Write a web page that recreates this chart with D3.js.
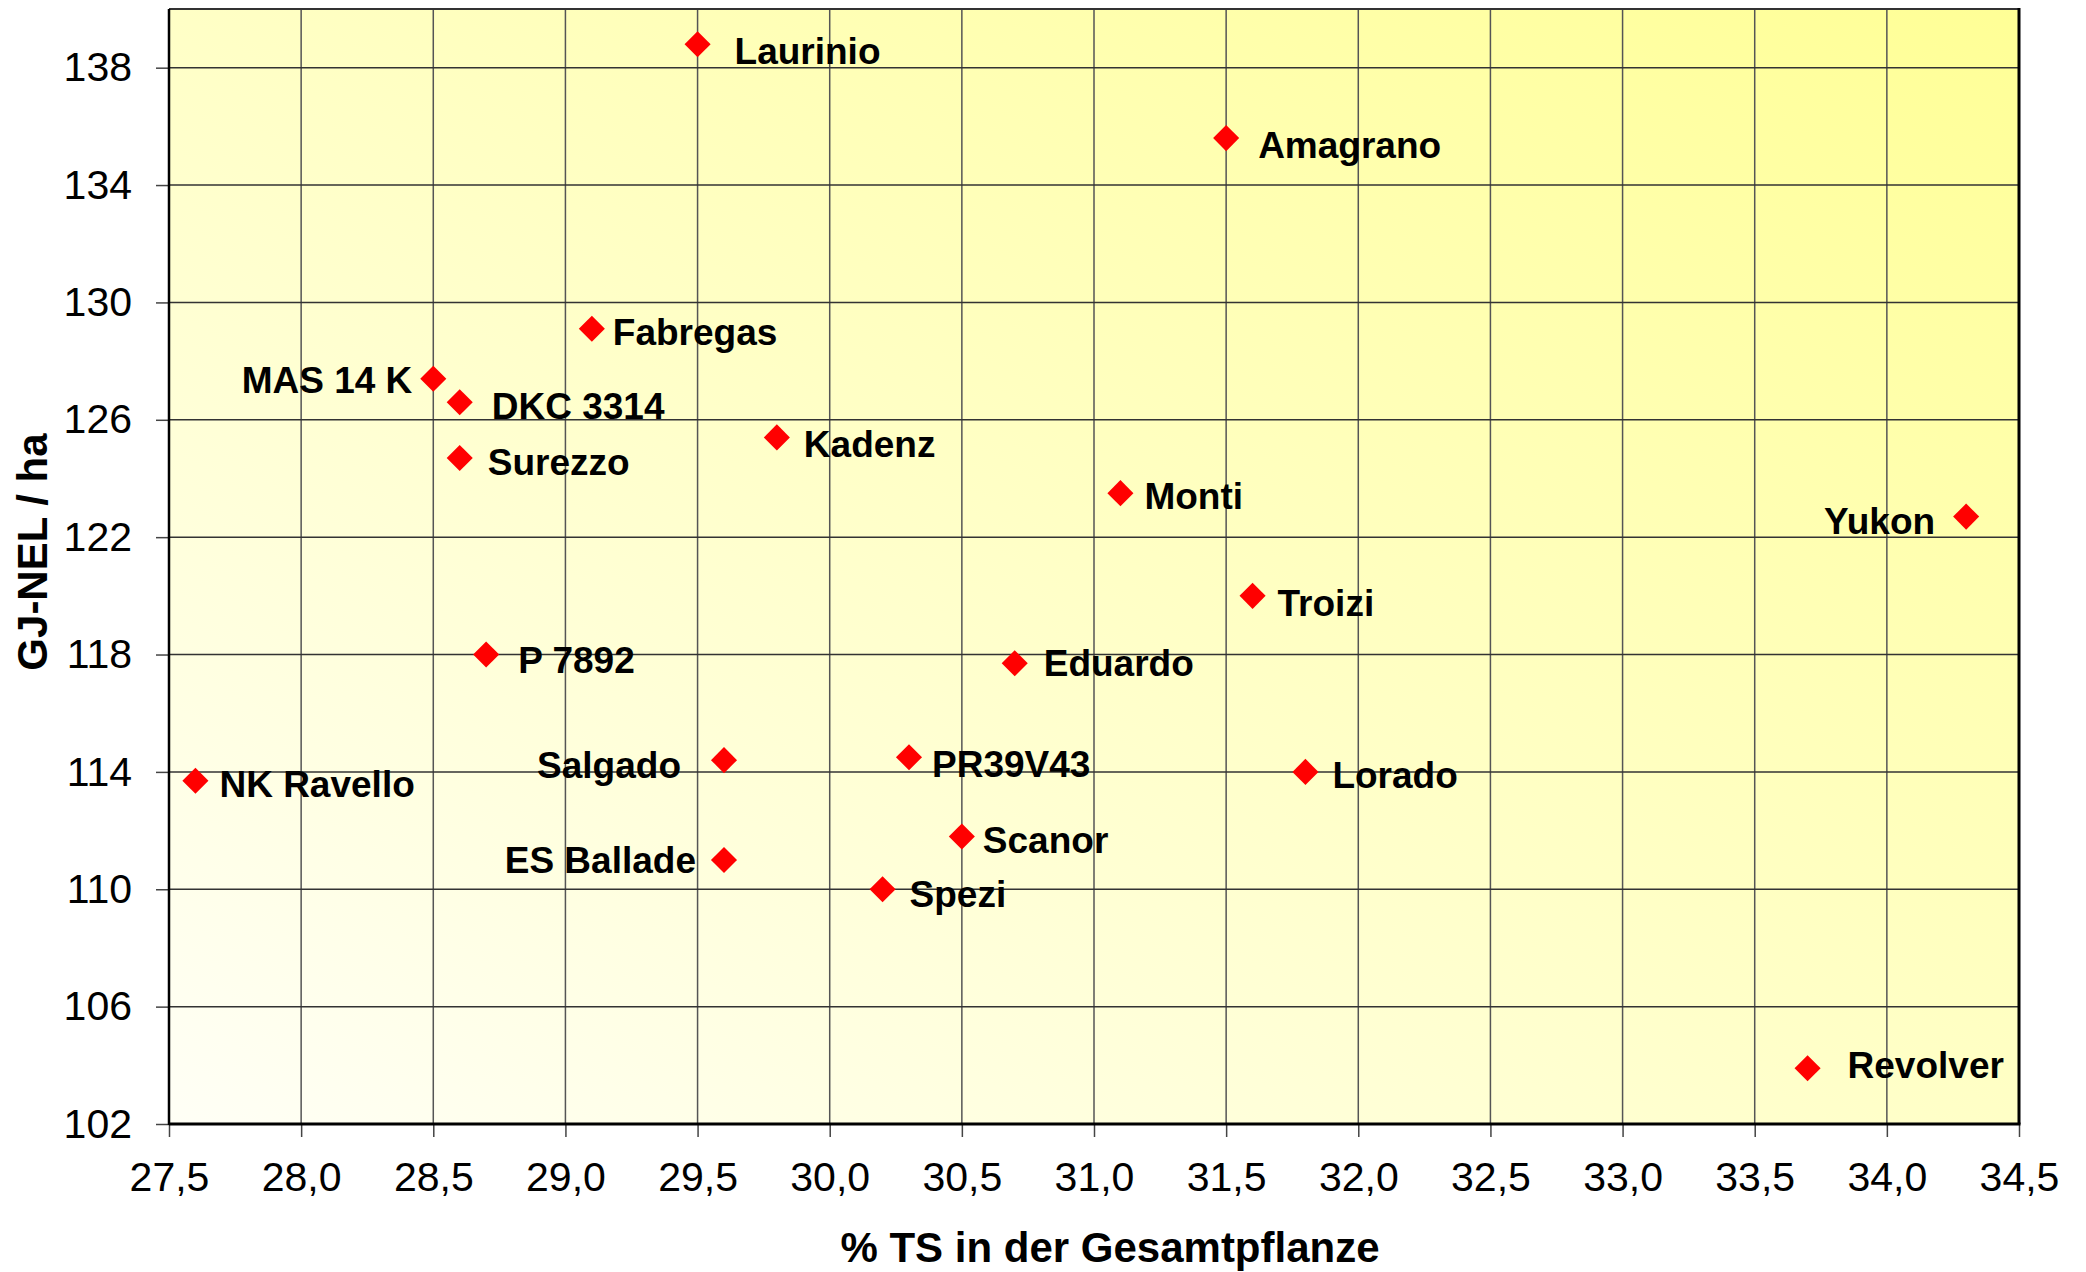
<!DOCTYPE html>
<html>
<head>
<meta charset="utf-8">
<script src="https://cdn.jsdelivr.net/npm/d3@7"></script>
<style>
  html, body { margin: 0; padding: 0; background: #fff; }
  svg { display: block; }
</style>
</head>
<body>
<svg id="chart" width="2086" height="1272"></svg>
<script>
// ---- Data ----
const varieties = ["Laurinio","Amagrano","Fabregas","MAS 14 K","DKC 3314","Surezzo","Kadenz","Monti","Yukon","Troizi","P 7892","Eduardo","NK Ravello","Salgado","PR39V43","Lorado","Scanor","ES Ballade","Spezi","Revolver"];
const tsValues  = [29.5, 31.5, 29.1, 28.5, 28.6, 28.6, 29.8, 31.1, 34.3, 31.6, 28.7, 30.7, 27.6, 29.6, 30.3, 31.8, 30.5, 29.6, 30.2, 33.7];
const nelValues = [138.8, 135.6, 129.1, 127.4, 126.6, 124.7, 125.4, 123.5, 122.7, 120.0, 118.0, 117.7, 113.7, 114.4, 114.5, 114.0, 111.8, 111.0, 110.0, 103.9];
const xTicks = [27.5, 28.0, 28.5, 29.0, 29.5, 30.0, 30.5, 31.0, 31.5, 32.0, 32.5, 33.0, 33.5, 34.0, 34.5];
const yTicks = [102, 106, 110, 114, 118, 122, 126, 130, 134, 138];
const xTitle = "% TS in der Gesamtpflanze";
const yTitle = "GJ-NEL / ha";

// ---- Label layout (side, horizontal gap, vertical shift) ----
const labelLayout = [
  ["r",37,7],["r",32,7],["r",21,3],["l",21,1],["r",32,4],["r",28,4],["r",27,7],["r",24,3],
  ["l",31,4],["r",25,7],["r",32,5],["r",29,0],["r",24,3],["l",43,5],["r",23,7],["r",27,3],
  ["r",21,4],["l",28,0],["r",27,5],["r",40,-3]
];

// ---- Layout ----
const pLeft = 169, pRight = 2019, pTop = 9, pBottom = 1124;
const font = "'Liberation Sans', Arial, Helvetica, sans-serif";

const svg = d3.select("#chart");

const x = d3.scaleLinear().domain([27.5, 34.5]).range([pLeft, pRight]);
const y = d3.scaleLinear().domain([102, 140]).range([pBottom, pTop]);

// Background gradient
const defs = svg.append("defs");
const grad = defs.append("linearGradient").attr("id", "bg")
  .attr("x1", "0").attr("y1", "1").attr("x2", "1").attr("y2", "0");
grad.append("stop").attr("offset", "0").attr("stop-color", "#FFFFF6");
grad.append("stop").attr("offset", "1").attr("stop-color", "#FFFF96");

svg.append("rect")
  .attr("x", pLeft).attr("y", pTop)
  .attr("width", pRight - pLeft).attr("height", pBottom - pTop)
  .attr("fill", "url(#bg)");

// Grid
svg.append("g").selectAll("line").data(xTicks.slice(1, -1)).join("line")
  .attr("x1", d => x(d)).attr("x2", d => x(d))
  .attr("y1", pTop).attr("y2", pBottom)
  .attr("stroke", "#555").attr("stroke-width", 1.5);
svg.append("g").selectAll("line").data(yTicks.slice(1)).join("line")
  .attr("x1", pLeft).attr("x2", pRight)
  .attr("y1", d => y(d)).attr("y2", d => y(d))
  .attr("stroke", "#333").attr("stroke-width", 1.5);

// Axes
const fmt = d => d.toFixed(1).replace(".", ",");
const xAxis = svg.append("g")
  .attr("transform", `translate(0,${pBottom})`)
  .call(d3.axisBottom(x).tickValues(xTicks).tickFormat(fmt).tickSize(13).tickPadding(25));
const yAxis = svg.append("g")
  .attr("transform", `translate(${pLeft},0)`)
  .call(d3.axisLeft(y).tickValues(yTicks).tickFormat(d3.format("d")).tickSize(13).tickPadding(24));
[xAxis, yAxis].forEach(a => {
  a.select(".domain").remove();
  a.selectAll(".tick line").attr("stroke", "#444").attr("stroke-width", 1.5);
  a.selectAll(".tick text").attr("font-family", font).attr("font-size", 41).attr("fill", "#000");
});

// Plot border
svg.append("line").attr("x1", pLeft).attr("x2", pRight).attr("y1", pTop).attr("y2", pTop)
  .attr("stroke", "#333").attr("stroke-width", 2);
svg.append("line").attr("x1", pLeft).attr("x2", pLeft).attr("y1", pTop).attr("y2", pBottom + 1)
  .attr("stroke", "#000").attr("stroke-width", 2.5);
svg.append("line").attr("x1", pLeft).attr("x2", pRight + 1.5).attr("y1", pBottom).attr("y2", pBottom)
  .attr("stroke", "#000").attr("stroke-width", 3);
svg.append("line").attr("x1", pRight).attr("x2", pRight).attr("y1", pTop - 1).attr("y2", pBottom)
  .attr("stroke", "#000").attr("stroke-width", 3);

// Points
const pts = varieties.map((name, i) => ({ name, tx: tsValues[i], ny: nelValues[i], lay: labelLayout[i] }));
const diamond = d3.symbol().type(d3.symbolSquare).size(340);

svg.append("g").selectAll("path").data(pts).join("path")
  .attr("d", diamond)
  .attr("transform", d => `translate(${x(d.tx)},${y(d.ny)}) rotate(45)`)
  .attr("fill", "#FF0000");

// Labels
svg.append("g").selectAll("text").data(pts).join("text")
  .attr("x", d => d.lay[0] === "r" ? x(d.tx) + d.lay[1] : x(d.tx) - d.lay[1])
  .attr("y", d => y(d.ny) + d.lay[2] + 13)
  .attr("text-anchor", d => d.lay[0] === "r" ? "start" : "end")
  .attr("font-family", font).attr("font-weight", "bold").attr("font-size", 37)
  .attr("fill", "#000")
  .text(d => d.name);

// Axis titles
svg.append("text")
  .attr("x", 1110).attr("y", 1262)
  .attr("text-anchor", "middle")
  .attr("font-family", font).attr("font-weight", "bold").attr("font-size", 42)
  .text(xTitle);
svg.append("text")
  .attr("transform", "translate(47,552) rotate(-90)")
  .attr("text-anchor", "middle")
  .attr("font-family", font).attr("font-weight", "bold").attr("font-size", 42)
  .text(yTitle);
</script>
</body>
</html>
